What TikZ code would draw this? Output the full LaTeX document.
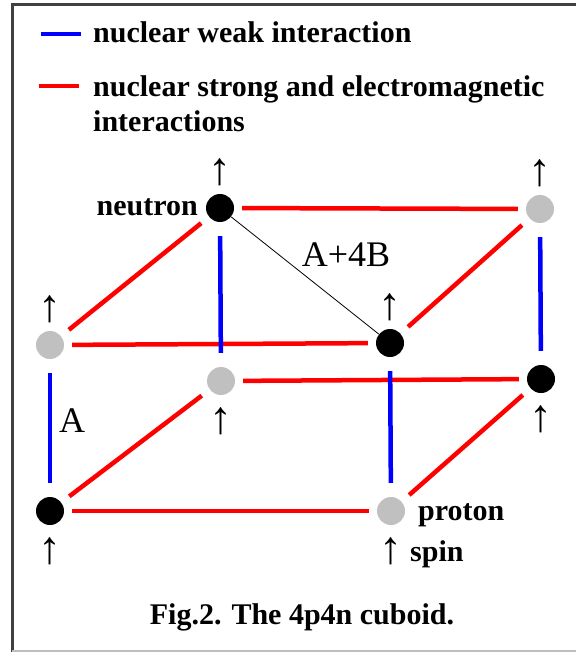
\documentclass[tikz,border=0pt]{standalone}
\usepackage{fontspec}
\setmainfont{Liberation Serif}
\usetikzlibrary{positioning}
\definecolor{dotgray}{RGB}{192,192,192}
\definecolor{framegray}{RGB}{64,64,64}
\definecolor{rulegray}{RGB}{190,190,190}
\newcommand{\bigbf}{\fontsize{30}{35}\selectfont\bfseries}
\newcommand{\bigrm}{\fontsize{36}{40}\selectfont}
\newcommand{\arrowfont}{\fontsize{46}{46}\selectfont\bfseries}

\begin{document}
\begin{tikzpicture}[x=1pt,y=-1pt,
  nucleon/.style={circle,minimum size=28pt,inner sep=0pt},
  neutronball/.style={nucleon,fill=black},
  protonball/.style={nucleon,fill=dotgray},
  weak/.style={blue,line width=4.5pt,shorten >=14pt,shorten <=14pt},
  strong/.style={red,line width=4.5pt,shorten >=8pt,shorten <=8pt},
  deep/.style={red,line width=4.5pt,shorten >=10pt,shorten <=10pt},
  spinup/.style={inner sep=0pt,font=\arrowfont},
  lbl/.style={inner sep=0pt,font=\bigbf}]
  \useasboundingbox (0,0) rectangle (576,652);
  % frame
  \draw[framegray,line width=3pt] (12.5,652) -- (12.5,4.5) -- (576,4.5);
  \draw[rulegray,line width=1.5pt] (12,651) -- (576,651);
  % legend
  \draw[blue,line width=4.5pt] (41,34) -- (81,34);
  \draw[red,line width=4.5pt] (39,86) -- (79,86);
  \node[lbl,anchor=base west] (weaktxt) at (93,43) {nuclear weak interaction};
  \node[lbl,anchor=base west,align=left] (strongtxt) at (93,132)
    {nuclear strong and electromagnetic\\interactions};
  % front face
  \node[protonball] (ftl) at (50,345) {};
  \node[neutronball] (ftr) at (390,343) {};
  \node[neutronball] (fbl) at (50,511) {};
  \node[protonball] (fbr) at (391,511) {};
  % back face
  \node[neutronball] (btl) at (220,208) {};
  \node[protonball] (btr) at (540,209) {};
  \node[protonball] (bbl) at (221,381) {};
  \node[neutronball] (bbr) at (541,379) {};
  % strong and electromagnetic
  \draw[strong] (btl) -- (btr);
  \draw[strong] (ftl) -- (ftr);
  \draw[strong] (bbl) -- (bbr);
  \draw[strong] (fbl) -- (fbr);
  \draw[deep] (ftl) -- (btl);
  \draw[deep] (ftr) -- (btr);
  \draw[deep] (fbl) -- (bbl);
  \draw[deep] (fbr) -- (bbr);
  % weak
  \draw[weak] (ftl) -- (fbl);
  \draw[weak] (btl) -- (bbl);
  \draw[weak] (ftr) -- (fbr);
  \draw[weak] (btr) -- (bbr);
  \draw[line width=0.8pt] (btl) -- (ftr);
  % spins
  \node[spinup,above=8pt of btl] (s1) {↑};
  \node[spinup,above=8pt of btr] (s2) {↑};
  \node[spinup,above=8pt of ftl] (s3) {↑};
  \node[spinup,above=8pt of ftr] (s4) {↑};
  \node[spinup,below=12pt of bbl] (s5) {↑};
  \node[spinup,below=12pt of bbr] (s6) {↑};
  \node[spinup,below=12pt of fbl] (s7) {↑};
  \node[spinup,below=12pt of fbr] (s8) {↑};
  % labels
  \node[lbl,anchor=base east] (ntxt) at (198,215) {neutron};
  \node[lbl,anchor=base west] (ptxt) at (418,520) {proton};
  \node[lbl,anchor=base west] (spintxt) at (410,561) {spin};
  \node[inner sep=0pt,font=\bigrm,anchor=base] (atxt) at (72,432) {A};
  \node[inner sep=0pt,font=\bigrm,anchor=base] (abtxt) at (346,266) {A+4B};
  \node[lbl,anchor=base] (caption) at (302,624) {Fig.2. The 4p4n cuboid.};
\end{tikzpicture}
\end{document}
